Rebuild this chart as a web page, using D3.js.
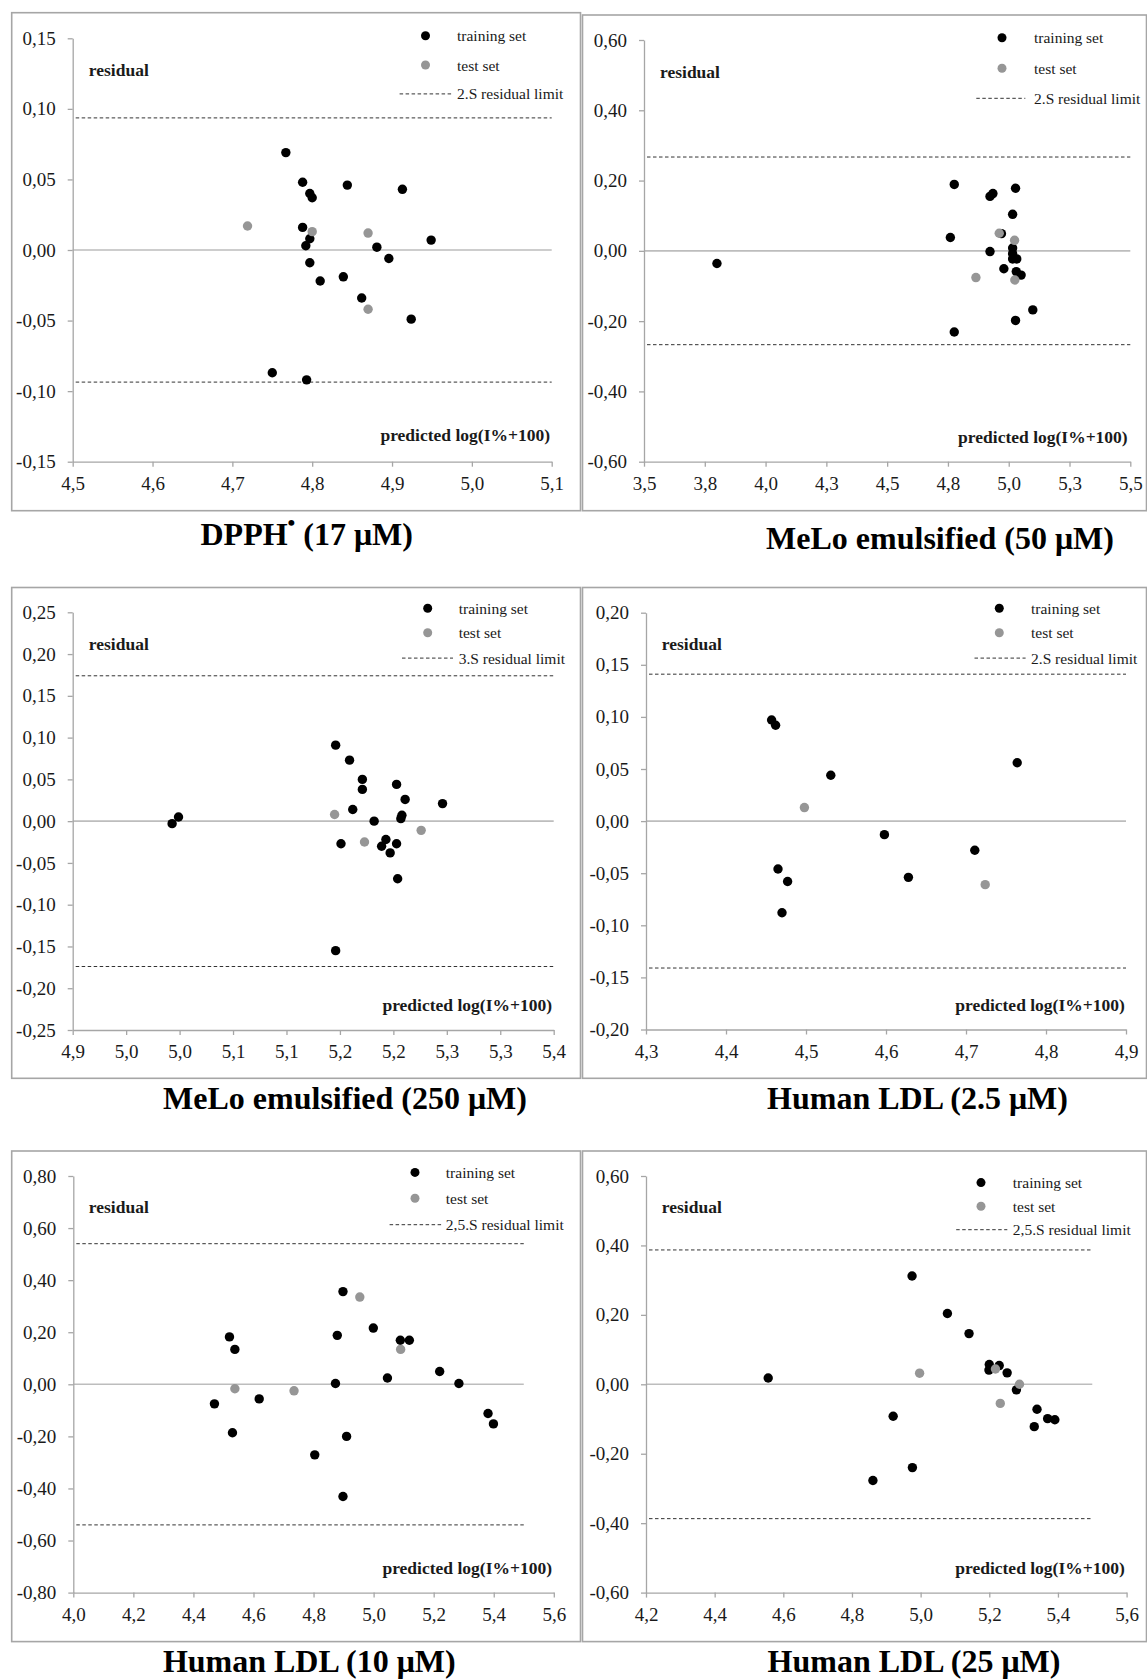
<!DOCTYPE html>
<html><head><meta charset="utf-8">
<script src="https://cdn.jsdelivr.net/npm/d3@7"></script>
<style>body{margin:0;background:#fff}svg{display:block}</style>
</head><body>
<svg id="c" width="1147" height="1679"></svg>
<script>
// ---------------- DATA ----------------
// DPPH (17 µM)
const dpphTraining = [[4.767,0.069],[4.788,0.048],[4.797,0.040],[4.800,0.037],[4.844,0.046],[4.913,0.043],
  [4.788,0.016],[4.797,0.008],[4.792,0.003],[4.949,0.007],[4.881,0.002],[4.896,-0.006],[4.797,-0.009],
  [4.810,-0.022],[4.839,-0.019],[4.862,-0.034],[4.924,-0.049],[4.750,-0.087],[4.793,-0.092]];
const dpphTest = [[4.719,0.017],[4.800,0.013],[4.870,0.012],[4.870,-0.042]];
const dpphXTicks = [4.5,4.6,4.7,4.8,4.9,5.0,5.1];
const dpphXLabels = ["4,5","4,6","4,7","4,8","4,9","5,0","5,1"];
const dpphYTicks = [0.15,0.10,0.05,0,-0.05,-0.10,-0.15];
const dpphYLabels = ["0,15","0,10","0,05","0,00","-0,05","-0,10","-0,15"];
const dpphLimit = 0.0936;

// MeLo emulsified (50 µM)
const melo50Training = [[3.800,-0.036],[4.776,0.189],[4.760,0.038],[4.776,-0.231],[4.923,0.155],[4.935,0.163],
  [5.028,0.178],[5.016,0.104],[4.970,0.049],[4.923,-0.002],[5.016,0.008],[5.016,-0.008],[5.016,-0.023],
  [5.033,-0.023],[4.980,-0.051],[5.031,-0.059],[5.051,-0.069],[5.099,-0.168],[5.028,-0.198]];
const melo50Test = [[4.961,0.050],[5.024,0.030],[4.865,-0.076],[5.025,-0.083]];
const melo50XTicks = [3.5,3.75,4.0,4.25,4.5,4.75,5.0,5.25,5.5];
const melo50XLabels = ["3,5","3,8","4,0","4,3","4,5","4,8","5,0","5,3","5,5"];
const melo50YTicks = [0.6,0.4,0.2,0,-0.2,-0.4,-0.6];
const melo50YLabels = ["0,60","0,40","0,20","0,00","-0,20","-0,40","-0,60"];
const melo50Limit = 0.267;

// MeLo emulsified (250 µM)
const melo250Training = [[5.146,0.091],[5.159,0.073],[5.171,0.050],[5.171,0.038],[5.203,0.044],[5.211,0.026],
  [5.246,0.021],[5.162,0.014],[5.208,0.007],[5.207,0.003],[5.182,0.000],[4.999,0.005],[4.993,-0.003],
  [5.151,-0.027],[5.189,-0.030],[5.193,-0.022],[5.203,-0.027],[5.197,-0.038],[5.204,-0.069],[5.146,-0.155]];
const melo250Test = [[5.145,0.008],[5.173,-0.025],[5.226,-0.011]];
const melo250XTicks = [4.90,4.95,5.00,5.05,5.10,5.15,5.20,5.25,5.30,5.35];
const melo250XLabels = ["4,9","5,0","5,0","5,1","5,1","5,2","5,2","5,3","5,3","5,4"];
const melo250YTicks = [0.25,0.20,0.15,0.10,0.05,0,-0.05,-0.10,-0.15,-0.20,-0.25];
const melo250YLabels = ["0,25","0,20","0,15","0,10","0,05","0,00","-0,05","-0,10","-0,15","-0,20","-0,25"];
const melo250Limit = 0.174;

// Human LDL (2.5 µM)
const ldl25Training = [[4.457,0.097],[4.462,0.092],[4.531,0.044],[4.764,0.056],[4.598,-0.013],[4.711,-0.028],
  [4.465,-0.046],[4.477,-0.058],[4.628,-0.054],[4.470,-0.088]];
const ldl25Test = [[4.498,0.013],[4.724,-0.061]];
const ldl25XTicks = [4.3,4.4,4.5,4.6,4.7,4.8,4.9];
const ldl25XLabels = ["4,3","4,4","4,5","4,6","4,7","4,8","4,9"];
const ldl25YTicks = [0.20,0.15,0.10,0.05,0,-0.05,-0.10,-0.15,-0.20];
const ldl25YLabels = ["0,20","0,15","0,10","0,05","0,00","-0,05","-0,10","-0,15","-0,20"];
const ldl25Limit = 0.141;

// Human LDL (10 µM)
const ldl10Training = [[4.520,0.182],[4.538,0.134],[4.470,-0.075],[4.530,-0.186],[4.619,-0.056],[4.898,0.356],
  [4.879,0.188],[4.873,0.003],[4.999,0.216],[5.089,0.169],[5.119,0.169],[5.046,0.024],[5.220,0.049],
  [5.284,0.003],[5.381,-0.112],[5.399,-0.152],[4.910,-0.200],[4.804,-0.271],[4.898,-0.431]];
const ldl10Test = [[4.954,0.335],[5.090,0.134],[4.538,-0.017],[4.735,-0.025]];
const ldl10XTicks = [4.0,4.2,4.4,4.6,4.8,5.0,5.2,5.4,5.6];
const ldl10XLabels = ["4,0","4,2","4,4","4,6","4,8","5,0","5,2","5,4","5,6"];
const ldl10YTicks = [0.8,0.6,0.4,0.2,0,-0.2,-0.4,-0.6,-0.8];
const ldl10YLabels = ["0,80","0,60","0,40","0,20","0,00","-0,20","-0,40","-0,60","-0,80"];
const ldl10Limit = 0.540;

// Human LDL (25 µM)
const ldl25uTraining = [[4.556,0.018],[4.975,0.312],[5.078,0.204],[5.141,0.146],[5.200,0.057],[5.199,0.041],
  [5.229,0.054],[5.252,0.033],[5.279,-0.016],[5.339,-0.072],[5.370,-0.099],[5.391,-0.102],[5.331,-0.122],
  [4.920,-0.092],[4.976,-0.240],[4.861,-0.277]];
const ldl25uTest = [[4.997,0.032],[5.218,0.044],[5.288,0.000],[5.232,-0.055]];
const ldl25uXTicks = [4.2,4.4,4.6,4.8,5.0,5.2,5.4,5.6];
const ldl25uXLabels = ["4,2","4,4","4,6","4,8","5,0","5,2","5,4","5,6"];
const ldl25uYTicks = [0.6,0.4,0.2,0,-0.2,-0.4,-0.6];
const ldl25uYLabels = ["0,60","0,40","0,20","0,00","-0,20","-0,40","-0,60"];
const ldl25uLimit = 0.387;

const legendLabels = ["training set","test set"];
const limitLabels = ["2.S residual limit","2.S residual limit","3.S residual limit","2.S residual limit","2,5.S residual limit","2,5.S residual limit"];
const titles = [
  [{t:"DPPH"},{t:"•",sup:true},{t:" (17 μM)"}],
  [{t:"MeLo emulsified (50 μM)"}],
  [{t:"MeLo emulsified (250 μM)"}],
  [{t:"Human LDL (2.5 μM)"}],
  [{t:"Human LDL (10 μM)"}],
  [{t:"Human LDL (25 μM)"}]
];

// ---------------- LAYOUT ----------------
const FONT = "'Liberation Serif','Times New Roman',Times,serif";
const panels = [
  {frame:[11.7,12.7,580.5,510.7], xr:[72.7,551.7], yr:[461.7,38.3], xDom:[4.5,5.1], yDom:[-0.15,0.15],
   xT:dpphXTicks, xL:dpphXLabels, yT:dpphYTicks, yL:dpphYLabels, limit:dpphLimit, lineEnd:5.1,
   train:dpphTraining, test:dpphTest,
   leg:{mx:425.5, ys:[35.7,65,93.9], tx:457, dx:[399.6,453.2]}, resid:[88.8,76], pred:[550,441], tpos:[306.7,545]},
  {frame:[582.5,15,1146.5,510.7], xr:[644,1130.3], yr:[461.7,40], xDom:[3.5,5.5], yDom:[-0.6,0.6],
   xT:melo50XTicks, xL:melo50XLabels, yT:melo50YTicks, yL:melo50YLabels, limit:melo50Limit, lineEnd:5.5,
   train:melo50Training, test:melo50Test,
   leg:{mx:1002, ys:[37.7,68.3,98.3], tx:1034, dx:[976.3,1025.3]}, resid:[660,77.9], pred:[1127.7,443], tpos:[940,549]},
  {frame:[11.7,587.5,580.5,1078.3], xr:[72.7,553.7], yr:[1030,612.3], xDom:[4.90,5.35], yDom:[-0.25,0.25],
   xT:melo250XTicks, xL:melo250XLabels, yT:melo250YTicks, yL:melo250YLabels, limit:melo250Limit, lineEnd:5.35,
   train:melo250Training, test:melo250Test,
   leg:{mx:427.7, ys:[608.2,632.7,658.1], tx:458.7, dx:[402,453]}, resid:[88.8,650.2], pred:[552,1011], tpos:[345,1109]},
  {frame:[582.5,587.5,1146.5,1078.3], xr:[646,1126], yr:[1029.5,612.7], xDom:[4.3,4.9], yDom:[-0.2,0.2],
   xT:ldl25XTicks, xL:ldl25XLabels, yT:ldl25YTicks, yL:ldl25YLabels, limit:ldl25Limit, lineEnd:4.9,
   train:ldl25Training, test:ldl25Test,
   leg:{mx:999.3, ys:[608.2,632.7,658.1], tx:1031, dx:[974.5,1025.6]}, resid:[661.8,650.2], pred:[1124.8,1011], tpos:[917.5,1109]},
  {frame:[11.7,1151,580.5,1641.6], xr:[73.3,553.8], yr:[1592.6,1176], xDom:[4.0,5.6], yDom:[-0.8,0.8],
   xT:ldl10XTicks, xL:ldl10XLabels, yT:ldl10YTicks, yL:ldl10YLabels, limit:ldl10Limit, lineEnd:5.5,
   train:ldl10Training, test:ldl10Test,
   leg:{mx:415, ys:[1172.4,1198.2,1224.7], tx:445.8, dx:[389.6,442]}, resid:[88.8,1213.4], pred:[552,1573.7], tpos:[309.3,1672]},
  {frame:[582.5,1151,1146.5,1641.6], xr:[646,1126.6], yr:[1592.6,1176], xDom:[4.2,5.6], yDom:[-0.6,0.6],
   xT:ldl25uXTicks, xL:ldl25uXLabels, yT:ldl25uYTicks, yL:ldl25uYLabels, limit:ldl25uLimit, lineEnd:5.5,
   train:ldl25uTraining, test:ldl25uTest,
   leg:{mx:981, ys:[1182.6,1206.2,1229.7], tx:1012.8, dx:[956.2,1007.3]}, resid:[661.8,1213.4], pred:[1124.8,1573.7], tpos:[914,1672]}
];

const AXIS = "#a6a6a6", TXT = "#1a1a1a", BLACK = "#000", GREY = "#969696", DASH = "#333";
const R = 4.7;
const svg = d3.select("#c");

panels.forEach((p, i) => {
  const g = svg.append("g");
  const [fx0, fy0, fx1, fy1] = p.frame;
  g.append("rect").attr("x", fx0).attr("y", fy0).attr("width", fx1 - fx0).attr("height", fy1 - fy0)
    .attr("fill", "none").attr("stroke", AXIS).attr("stroke-width", 1.6);

  const x = d3.scaleLinear().domain(p.xDom).range(p.xr);
  const y = d3.scaleLinear().domain(p.yDom).range(p.yr);

  // zero line
  g.append("line").attr("x1", x(p.xDom[0])).attr("x2", x(p.lineEnd)).attr("y1", y(0)).attr("y2", y(0))
    .attr("stroke", "#bdbdbd").attr("stroke-width", 1.6);
  // residual limits
  [p.limit, -p.limit].forEach(v => {
    g.append("line").attr("x1", x(p.xDom[0]) + 3).attr("x2", x(p.lineEnd)).attr("y1", y(v)).attr("y2", y(v))
      .attr("stroke", DASH).attr("stroke-width", 1).attr("stroke-dasharray", "3.5,2.5");
  });

  // axes
  const ya = g.append("g").attr("transform", `translate(${p.xr[0]},0)`)
    .call(d3.axisLeft(y).tickValues(p.yT).tickFormat((d, k) => p.yL[k]).tickSize(5).tickSizeOuter(0).tickPadding(12));
  const xa = g.append("g").attr("transform", `translate(0,${p.yr[0]})`)
    .call(d3.axisBottom(x).tickValues(p.xT).tickFormat((d, k) => p.xL[k]).tickSize(5).tickSizeOuter(0).tickPadding(10));
  [ya, xa].forEach(a => {
    a.select(".domain").attr("stroke", AXIS).attr("stroke-width", 1.3);
    a.selectAll(".tick line").attr("stroke", AXIS).attr("stroke-width", 1.3);
    a.selectAll(".tick text").attr("fill", TXT).style("font-family", FONT).style("font-size", "19px");
  });

  // points
  g.selectAll(".tr").data(p.train).enter().append("circle")
    .attr("cx", d => x(d[0])).attr("cy", d => y(d[1])).attr("r", R).attr("fill", BLACK);
  g.selectAll(".te").data(p.test).enter().append("circle")
    .attr("cx", d => x(d[0])).attr("cy", d => y(d[1])).attr("r", R).attr("fill", GREY);

  // legend
  const L = p.leg;
  g.append("circle").attr("cx", L.mx).attr("cy", L.ys[0]).attr("r", 4.5).attr("fill", BLACK);
  g.append("circle").attr("cx", L.mx).attr("cy", L.ys[1]).attr("r", 4.5).attr("fill", GREY);
  g.append("line").attr("x1", L.dx[0]).attr("x2", L.dx[1]).attr("y1", L.ys[2]).attr("y2", L.ys[2])
    .attr("stroke", DASH).attr("stroke-width", 1).attr("stroke-dasharray", "3.5,2.5");
  const legTexts = [legendLabels[0], legendLabels[1], limitLabels[i]];
  legTexts.forEach((t, k) => {
    g.append("text").attr("x", L.tx).attr("y", L.ys[k]).attr("dy", "0.36em").text(t)
      .attr("fill", TXT).style("font-family", FONT).style("font-size", "15.5px");
  });

  // axis captions
  g.append("text").attr("x", p.resid[0]).attr("y", p.resid[1]).text("residual")
    .attr("fill", TXT).style("font-family", FONT).style("font-size", "17.5px").style("font-weight", "bold");
  g.append("text").attr("x", p.pred[0]).attr("y", p.pred[1]).attr("text-anchor", "end").text("predicted log(I%+100)")
    .attr("fill", TXT).style("font-family", FONT).style("font-size", "17.5px").style("font-weight", "bold");

  // title
  const tt = g.append("text").attr("x", p.tpos[0]).attr("y", p.tpos[1]).attr("text-anchor", "middle")
    .attr("fill", BLACK).style("font-family", FONT).style("font-size", "32px").style("font-weight", "bold");
  titles[i].forEach(s => {
    if (s.sup) {
      tt.append("tspan").attr("dy", -15).style("font-size", "22px").text(s.t);
    } else {
      const ts = tt.append("tspan").text(s.t);
      if (tt.selectAll("tspan").size() > 1) ts.attr("dy", 15);
    }
  });
});
</script>
</body></html>
